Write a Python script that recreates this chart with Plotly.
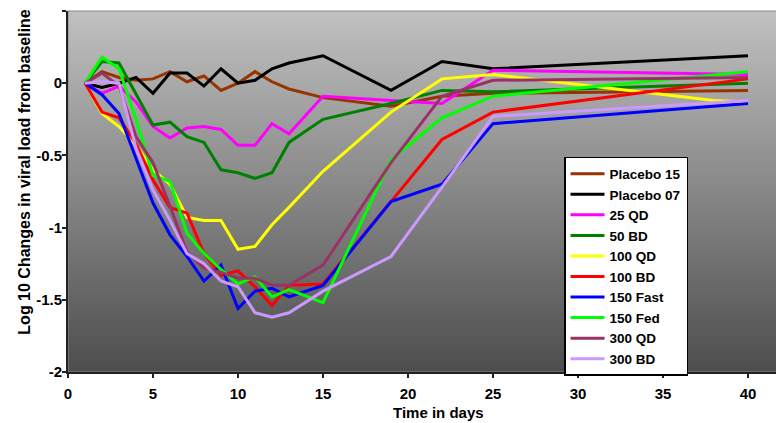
import plotly.graph_objects as go

# ---- data ----
days = [1, 2, 3, 4, 5, 6, 7, 8, 9, 10, 11, 12, 13, 15, 19, 22, 25, 40]
days_100qd = [1, 2, 3, 4, 5, 6, 7, 8, 9, 10, 11, 12, 13, 15, 19, 22, 25, 38, 40]

placebo_15 = [0, 0.08, 0.04, 0.02, 0.03, 0.08, 0.01, 0.05, -0.05, 0.0, 0.08, 0.01, -0.04, -0.10, -0.16, -0.09, -0.07, -0.05]
placebo_07 = [0, -0.03, 0.0, 0.04, -0.07, 0.07, 0.07, -0.02, 0.10, 0.0, 0.02, 0.10, 0.14, 0.19, -0.05, 0.15, 0.10, 0.19]
qd_25 = [0, -0.07, -0.02, -0.13, -0.30, -0.38, -0.31, -0.30, -0.32, -0.43, -0.43, -0.28, -0.35, -0.09, -0.12, -0.14, 0.09, 0.06]
bd_50 = [0, 0.15, 0.14, -0.08, -0.29, -0.27, -0.37, -0.41, -0.60, -0.62, -0.66, -0.62, -0.41, -0.25, -0.14, -0.05, -0.06, 0.0]
qd_100 = [0, -0.21, -0.30, -0.43, -0.60, -0.70, -0.93, -0.95, -0.95, -1.15, -1.13, -0.98, -0.86, -0.61, -0.20, 0.03, 0.06, -0.12, -0.13]
bd_100 = [0, -0.20, -0.24, -0.42, -0.67, -0.86, -0.90, -1.18, -1.33, -1.30, -1.41, -1.54, -1.40, -1.39, -0.82, -0.39, -0.20, 0.03]
fast_150 = [0, -0.08, -0.21, -0.52, -0.83, -1.05, -1.20, -1.37, -1.26, -1.56, -1.44, -1.42, -1.48, -1.40, -0.82, -0.70, -0.28, -0.14]
fed_150 = [0, 0.18, 0.10, -0.25, -0.64, -0.68, -1.04, -1.18, -1.29, -1.39, -1.34, -1.48, -1.43, -1.52, -0.53, -0.24, -0.09, 0.08]
qd_300 = [0, 0.07, -0.02, -0.37, -0.55, -0.85, -1.17, -1.28, -1.31, -1.35, -1.35, -1.40, -1.40, -1.26, -0.55, -0.09, 0.02, 0.04]
bd_300 = [0, 0.01, 0.0, -0.45, -0.74, -0.95, -1.18, -1.25, -1.37, -1.41, -1.59, -1.62, -1.59, -1.44, -1.20, -0.72, -0.23, -0.12]

series_names = ["Placebo 15", "Placebo 07", "25 QD", "50 BD", "100 QD", "100 BD",
                "150 Fast", "150 Fed", "300 QD", "300 BD"]
series_x = [days, days, days, days, days_100qd, days, days, days, days, days]
series_y = [placebo_15, placebo_07, qd_25, bd_50, qd_100, bd_100, fast_150, fed_150, qd_300, bd_300]
series_colors = ["#993300", "#000000", "#ff00ff", "#008000", "#ffff00", "#ff0000",
                 "#0000ff", "#00ff00", "#993366", "#cc99ff"]

x_ticks = [0, 5, 10, 15, 20, 25, 30, 35, 40]
y_ticks = [-2, -1.5, -1, -0.5, 0, 0.5]
y_ticktext = ["-2", "-1.5", "-1", "-0.5", "0", "0.5"]

FONT = "Liberation Sans, Arial, sans-serif"

fig = go.Figure()
for name, xs, ys, col in zip(series_names, series_x, series_y, series_colors):
    fig.add_trace(go.Scatter(x=xs, y=ys, mode="lines", name=name,
                             line=dict(color=col, width=3)))

# gradient plot background: stacked rectangles, each covering from the bottom up
shapes = []
n = 90
top_c, bot_c = 192, 78
for i in range(n):
    f = i / (n - 1)
    c = round(top_c + (bot_c - top_c) * f)
    shapes.append(dict(type="rect", xref="paper", yref="paper",
                       x0=0, x1=1, y0=0, y1=1 - i / n,
                       fillcolor=f"rgb({c},{c},{c})", line=dict(width=0), layer="below"))
shapes.append(dict(type="rect", xref="paper", yref="paper", x0=0, x1=1, y0=0, y1=1,
                   line=dict(color="#888888", width=1), fillcolor="rgba(0,0,0,0)", layer="below"))

# page body adds an 8px margin, so the figure is 8px smaller than the window
fig.update_layout(
    width=776, height=415,
    margin=dict(l=60, r=2, t=3, b=51),
    paper_bgcolor="white",
    plot_bgcolor="rgba(0,0,0,0)",
    shapes=shapes,
    showlegend=True,
    legend=dict(x=0.6947, y=0.5956, xanchor="left", yanchor="top",
                bgcolor="white", bordercolor="black", borderwidth=1.5,
                font=dict(family=FONT, size=13.5, color="black", weight="bold"),
                itemwidth=34),
    font=dict(family=FONT, color="black"),
    xaxis=dict(range=[0, 42], tickvals=x_ticks, ticktext=[str(v) for v in x_ticks],
               showgrid=False, zeroline=False, showline=True, linecolor="#222222", linewidth=2,
               ticks="outside", ticklen=4, tickcolor="#222222", tickwidth=1.5,
               ticklabelstandoff=3,
               tickfont=dict(family=FONT, size=15, color="black", weight="bold")),
    yaxis=dict(range=[-2, 0.5], tickvals=y_ticks, ticktext=y_ticktext,
               showgrid=False, zeroline=False, showline=True, linecolor="#222222", linewidth=2,
               ticks="outside", ticklen=4, tickcolor="#222222", tickwidth=1.5,
               ticklabelstandoff=-3,
               tickfont=dict(family=FONT, size=15, color="black", weight="bold")),
    annotations=[
        dict(text="Log 10 Changes in viral load from baseline", textangle=-90,
             xref="paper", yref="paper", x=-0.0602, y=0.555, xanchor="center", yanchor="middle",
             showarrow=False, font=dict(family=FONT, size=16, color="black", weight="bold")),
        dict(text="Time in days", xref="paper", yref="paper", x=0.5196, y=-0.112,
             xanchor="center", yanchor="middle", showarrow=False,
             font=dict(family=FONT, size=15, color="black", weight="bold")),
    ],
)

fig.write_html("out.html")
